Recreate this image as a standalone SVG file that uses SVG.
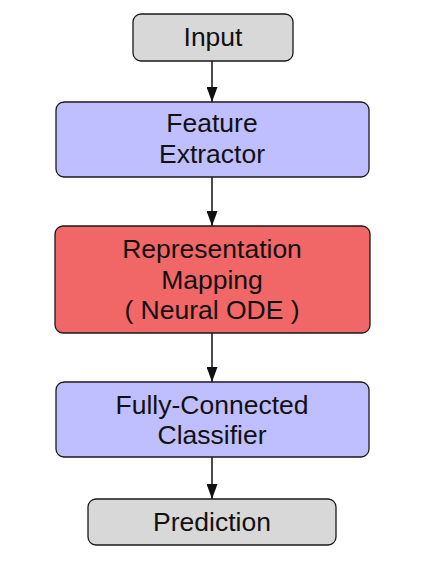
<svg xmlns="http://www.w3.org/2000/svg" width="443" height="576" viewBox="0 0 443 576">
<style>
.box{stroke:#1a1a1a;stroke-width:1.3}
.gray{fill:#d8d8d8}
.blue{fill:#bfbfff}
.red{fill:#f16666}
text{font-family:"Liberation Sans",Arial,Helvetica,sans-serif;font-size:26.5px;fill:#111;text-anchor:middle}
.edge{stroke:#111;stroke-width:1.5;fill:none}
</style>
<defs>
<marker id="ah" viewBox="0 0 15 11" refX="15" refY="5.5" markerWidth="15" markerHeight="11" markerUnits="userSpaceOnUse" orient="auto">
<path d="M0,0 L15,5.5 L0,11 Z" fill="#111"/>
</marker>
</defs>
<rect width="443" height="576" fill="#fff"/>
<g id="connectors">
<line class="edge" x1="212" y1="61" x2="212" y2="102" marker-end="url(#ah)"/>
<line class="edge" x1="212" y1="177" x2="212" y2="226" marker-end="url(#ah)"/>
<line class="edge" x1="212" y1="333" x2="212" y2="382" marker-end="url(#ah)"/>
<line class="edge" x1="212" y1="457" x2="212" y2="499" marker-end="url(#ah)"/>
</g>
<g id="input">
<rect class="box gray" x="133" y="14" width="160" height="47" rx="8"/>
<text x="213" y="46">Input</text>
</g>
<g id="feature-extractor">
<rect class="box blue" x="56" y="102" width="313" height="75" rx="8"/>
<text x="212" y="132">Feature</text>
<text x="212" y="163">Extractor</text>
</g>
<g id="representation-mapping">
<rect class="box red" x="55" y="226" width="315" height="107" rx="8"/>
<text x="212" y="258">Representation</text>
<text x="212" y="289">Mapping</text>
<text x="212" y="319">( Neural ODE )</text>
</g>
<g id="classifier">
<rect class="box blue" x="56" y="382" width="313" height="75" rx="8"/>
<text x="212" y="414">Fully-Connected</text>
<text x="212" y="444">Classifier</text>
</g>
<g id="prediction">
<rect class="box gray" x="88" y="499" width="248" height="46" rx="8"/>
<text x="212" y="531">Prediction</text>
</g>
</svg>
